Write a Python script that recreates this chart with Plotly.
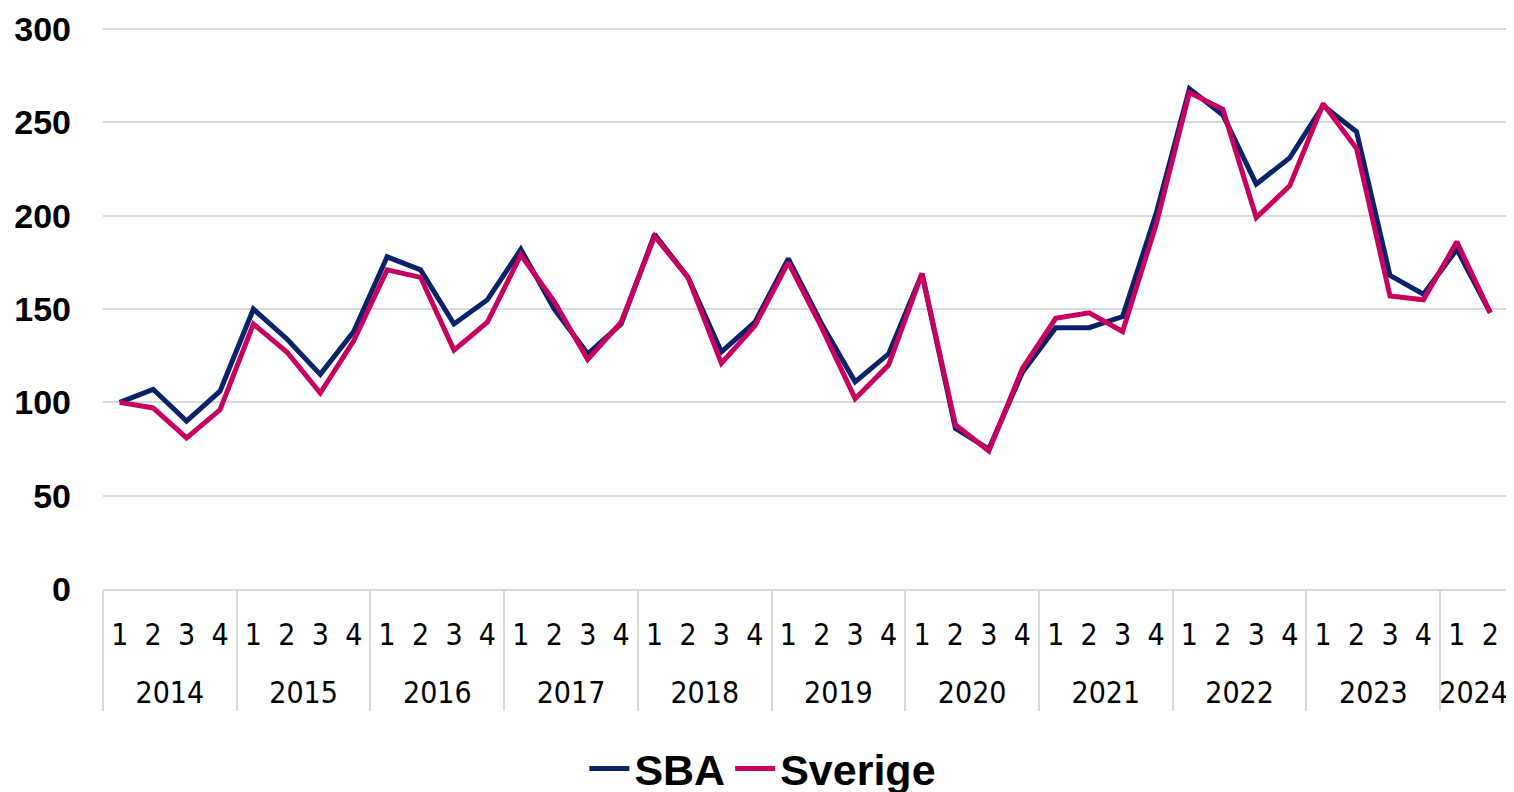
import plotly.graph_objects as go

years = ["2014"] * 4 + ["2015"] * 4 + ["2016"] * 4 + ["2017"] * 4 + ["2018"] * 4 + \
        ["2019"] * 4 + ["2020"] * 4 + ["2021"] * 4 + ["2022"] * 4 + ["2023"] * 4 + ["2024"] * 2
quarters = ["1", "2", "3", "4"] * 10 + ["1", "2"]

sba = [100, 107, 90, 106,
       150, 134, 115, 138,
       178, 171, 142, 155,
       182, 150, 126, 142,
       190, 167, 127, 143,
       177, 142, 111, 126,
       169, 86, 75, 116,
       140, 140, 146, 201,
       268, 254, 217, 231,
       259, 245, 168, 158,
       182, 148]

sverige = [100, 97, 81, 96,
           142, 127, 105, 133,
           171, 167, 128, 143,
           179, 154, 123, 143,
           189, 167, 121, 141,
           175, 140, 102, 120,
           169, 88, 74, 118,
           145, 148, 138, 195,
           266, 257, 199, 216,
           260, 236, 157, 155,
           186, 148]

# year labels carry a leading line break to push them further below the quarter row
year_labels = ["<br>" + y for y in years]
x = [year_labels, quarters]

fig = go.Figure()
fig.add_trace(go.Scatter(x=x, y=sba, name="SBA", mode="lines",
                         line=dict(color="#082369", width=5)))
fig.add_trace(go.Scatter(x=x, y=sverige, name="Sverige", mode="lines",
                         line=dict(color="#c8005f", width=5)))

tick_font = dict(family="Liberation Sans Narrow, DejaVu Sans Condensed, Liberation Sans, sans-serif",
                 size=30, color="#000000")

fig.update_layout(
    width=1514, height=792,
    margin=dict(l=95, r=15, t=20, b=211, autoexpand=False),
    paper_bgcolor="white", plot_bgcolor="white",
    showlegend=True,
    legend=dict(orientation="h", x=0.47, xanchor="center", y=-0.32, yanchor="middle",
                font=dict(family="Liberation Sans, Arial, sans-serif", size=43,
                          color="#000000", weight="bold"),
                itemwidth=40, tracegroupgap=0, bgcolor="rgba(0,0,0,0)"),
    xaxis=dict(type="multicategory", range=[-0.5, 41.5], automargin=False,
               tickmode="linear", tick0=0, dtick=1,
               showgrid=False, showline=True, linecolor="#d9d9d9", linewidth=2,
               showdividers=True, dividercolor="#d9d9d9", dividerwidth=2,
               ticks="", tickfont=tick_font, ticklabelstandoff=18),
    yaxis=dict(range=[0, 300.6], tickmode="linear", tick0=0, dtick=50,
               showgrid=True, gridcolor="#d9d9d9", gridwidth=2,
               zeroline=False, showline=False, ticks="", automargin=False,
               tickfont=dict(family="Liberation Sans, Arial, sans-serif", size=34,
                             color="#000000", weight="bold"),
               ticklabelstandoff=31),
)

fig.write_html("out.html")
